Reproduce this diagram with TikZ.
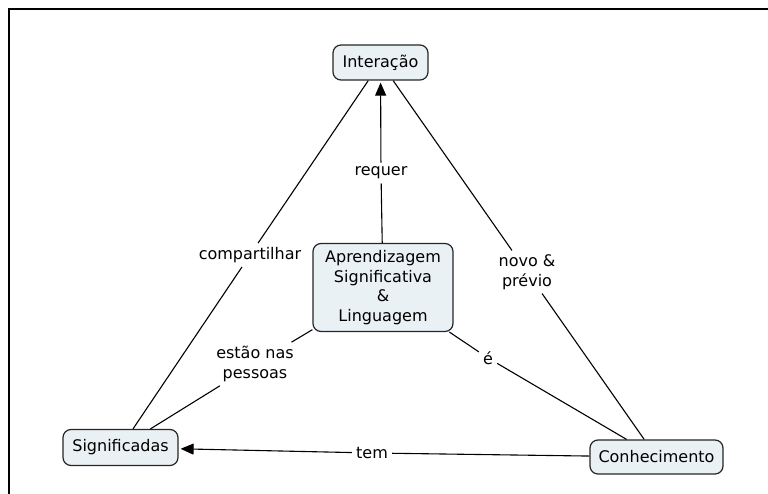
\documentclass[tikz,border=0pt]{standalone}
\usepackage{fontspec}
\setmainfont{DejaVu Sans}
\usetikzlibrary{arrows.meta}
\definecolor{conceptfill}{RGB}{234,241,245}
\begin{document}
\begin{tikzpicture}[x=1pt,y=-1pt,
  concept/.style={draw=black!85, line width=1.2pt, fill=conceptfill,
    rounded corners=8pt, inner sep=0pt, align=center,
    font=\fontsize{16}{19.5}\selectfont},
  link/.style={inner sep=4pt, align=center,
    font=\fontsize{16}{19.5}\selectfont},
  conn/.style={line width=1.1pt, draw=black},
  arr/.style={conn, -{Triangle[length=13pt,width=11pt]}, shorten >=2pt}
]
\useasboundingbox (0,0) rectangle (768,494);
% frame
\draw[line width=2pt] (9,494) -- (9,9) -- (768,9);

% concepts
\node[concept, minimum width=95pt, minimum height=35pt] (int) at (380.5,62.5) {Interação};
\node[concept, minimum width=140pt, minimum height=88pt] (apr) at (383,287.5)
  {Aprendizagem\\Significativa\\\&\\Linguagem};
\node[concept, minimum width=115pt, minimum height=36pt] (sig) at (120.5,447.5) {Significadas};
\node[concept, minimum width=133pt, minimum height=34pt] (con) at (656.5,457) {Conhecimento};

% linking phrases
\node[link] (lreq) at (381,173) {requer};
\node[link] (lcomp) at (250,255) {compartilhar};
\node[link] (lnovo) at (527,272) {novo \&\\prévio};
\node[link] (lest) at (255,364) {estão nas\\pessoas};
\node[link] (le) at (488,358) {é};
\node[link] (ltem) at (372,453) {tem};

% connections
\draw[conn] (apr) -- (lreq);
\draw[arr] (lreq) -- (int);
\draw[conn] (int) -- (lcomp);
\draw[conn] (lcomp) -- (sig);
\draw[conn] (int) -- (lnovo);
\draw[conn] (lnovo) -- (con);
\draw[conn] (apr) -- (lest);
\draw[conn] (lest) -- (sig);
\draw[conn] (apr) -- (le);
\draw[conn] (le) -- (con);
\draw[conn] (con) -- (ltem);
\draw[arr] (ltem) -- (sig);
\end{tikzpicture}
\end{document}
